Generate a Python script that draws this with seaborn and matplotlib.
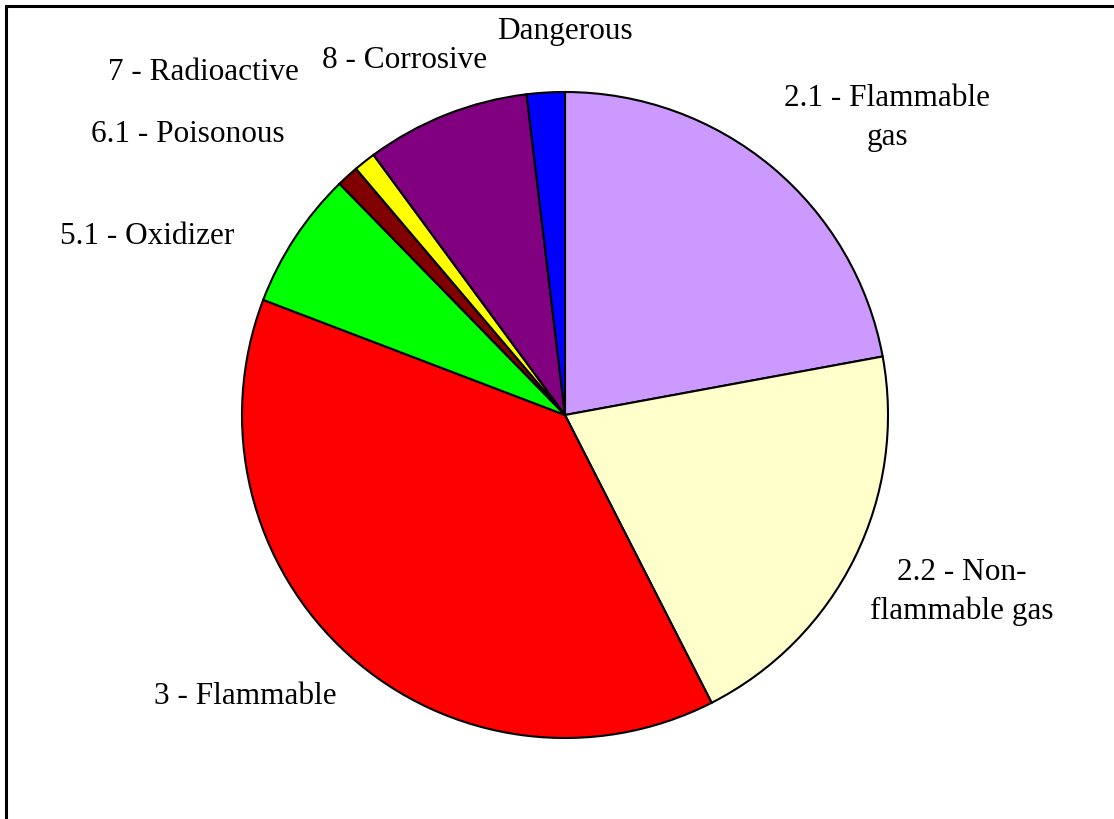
import matplotlib
matplotlib.use("Agg")
import matplotlib.pyplot as plt
import matplotlib.patches as mpatches
import seaborn as sns

categories = ["2.1 - Flammable\ngas", "2.2 - Non-\nflammable gas", "3 - Flammable",
              "5.1 - Oxidizer", "6.1 - Poisonous", "7 - Radioactive",
              "8 - Corrosive", "Dangerous"]
values = [22.1, 20.4, 38.3, 6.9, 1.1, 1.1, 8.2, 1.9]
colors = ["#CC99FF", "#FFFFCC", "#FF0000", "#00FF00", "#800000", "#FFFF00", "#800080", "#0000FF"]
# label centres in figure pixels (x from left, y from top)
label_pos = [(887, 118), (962, 592), (245, 696), (147, 236), (188, 135),
             (203, 72), (405, 60), (565, 32)]

sns.set_theme(style="white")
plt.rcParams['font.family'] = ['Liberation Serif', 'DejaVu Serif']

W, H = 1114, 819
fig = plt.figure(figsize=(W / 100, H / 100), dpi=100)
fig.patch.set_facecolor("white")

cx, cy, r = 565, 415, 323
ax = fig.add_axes([(cx - r) / W, (H - cy - r) / H, 2 * r / W, 2 * r / H])
wedges, _ = ax.pie(values, colors=colors, startangle=90, counterclock=False,
                   wedgeprops=dict(edgecolor="black", linewidth=1.5))
for w in wedges:
    w.set_clip_on(False)
ax.set_xlim(-1, 1)
ax.set_ylim(-1, 1)
ax.set_aspect("equal")
ax.axis("off")

for lab, (px, py) in zip(categories, label_pos):
    fig.text(px / W, 1 - py / H, lab, ha="center", va="center", fontsize=22.5,
             color="black", linespacing=1.45)

# outer frame (only left and top edges visible in the reference)
rect = mpatches.Rectangle((5.5 / W, -0.2), 1.3, 1 - 5.5 / H + 0.2, transform=fig.transFigure,
                          fill=False, edgecolor="black", linewidth=2.2)
fig.add_artist(rect)

fig.savefig("out.png", dpi=100, facecolor="white")
